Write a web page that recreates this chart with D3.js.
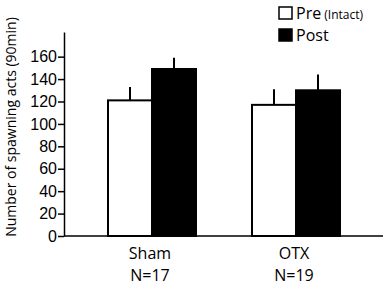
<!DOCTYPE html>
<html lang="en">
<head>
  <meta charset="UTF-8">
  <title>Spawning acts</title>
  <script src="https://d3js.org/d3.v7.min.js"></script>
  <style>
    body { margin: 0; background: #fff; }
    .axis text { font-family: "Liberation Sans", Arial, sans-serif; font-size: 16px; fill: #000; }
    .axis path, .axis line { stroke: #000; stroke-width: 1.5; }
    .lbl { font-family: "Open Sans", "Noto Sans", sans-serif; fill: #000; }
  </style>
</head>
<body>
  <svg width="386" height="285"></svg>

  <script>
    const groups = ["Sham", "OTX"];
    const groupN = ["N=17", "N=19"];
    const phases = ["Pre", "Post"];
    const preMean = [121, 117];
    const preSem = [12, 14];
    const postMean = [149, 130];
    const postSem = [10, 14];
    const yTicks = [0, 20, 40, 60, 80, 100, 120, 140, 160];

    const svg = d3.select("svg");

    const x = d3.scaleBand()
        .domain(groups)
        .range([80, 368]);

    const xPhase = d3.scaleBand()
        .domain(phases)
        .range([-44, 44]);

    const y = d3.scaleLinear()
        .domain([0, 182])
        .range([236, 32]);

    const bars = [];
    groups.forEach((g, i) => {
      bars.push({group: g, phase: "Pre", mean: preMean[i], sem: preSem[i]});
      bars.push({group: g, phase: "Post", mean: postMean[i], sem: postSem[i]});
    });

    // error bars (upper only)
    svg.selectAll(".err")
      .data(bars)
      .enter().append("line")
        .attr("x1", d => x(d.group) + x.bandwidth() / 2 + xPhase(d.phase) + xPhase.bandwidth() / 2)
        .attr("x2", d => x(d.group) + x.bandwidth() / 2 + xPhase(d.phase) + xPhase.bandwidth() / 2)
        .attr("y1", d => y(d.mean))
        .attr("y2", d => y(d.mean + d.sem))
        .attr("stroke", "#000")
        .attr("stroke-width", 2);

    svg.selectAll(".bar")
      .data(bars)
      .enter().append("rect")
        .attr("x", d => x(d.group) + x.bandwidth() / 2 + xPhase(d.phase))
        .attr("width", xPhase.bandwidth())
        .attr("y", d => y(d.mean))
        .attr("height", d => y(0) - y(d.mean))
        .attr("fill", d => d.phase === "Pre" ? "#fff" : "#000")
        .attr("stroke", "#000")
        .attr("stroke-width", 2);

    svg.append("g")
        .attr("class", "axis")
        .attr("transform", "translate(64,0)")
        .call(d3.axisLeft(y).tickValues(yTicks).tickSize(6).tickSizeOuter(0).tickPadding(1));

    svg.append("line")
        .attr("x1", 64).attr("x2", 383)
        .attr("y1", y(0)).attr("y2", y(0))
        .attr("stroke", "#000").attr("stroke-width", 1.5);

    // group labels
    groups.forEach((g, i) => {
      const cx = x(g) + x.bandwidth() / 2;
      svg.append("text").attr("class", "lbl")
        .attr("x", cx - 2).attr("y", 259)
        .attr("text-anchor", "middle").attr("font-size", 16)
        .text(g);
      svg.append("text").attr("class", "lbl")
        .attr("x", cx - 2).attr("y", 281)
        .attr("text-anchor", "middle").attr("font-size", 16)
        .text(groupN[i]);
    });

    svg.append("text").attr("class", "lbl")
        .attr("transform", "translate(16,127) rotate(-90)")
        .attr("text-anchor", "middle").attr("font-size", 14)
        .text("Number of spawning acts (90min)");

    // legend
    const leg = svg.append("g").attr("transform", "translate(279,7)");
    phases.forEach((p, i) => {
      const row = leg.append("g").attr("transform", `translate(0,${i * 22})`);
      row.append("rect")
        .attr("x", 0).attr("y", 0).attr("width", 13).attr("height", 12)
        .attr("fill", p === "Pre" ? "#fff" : "#000")
        .attr("stroke", "#000").attr("stroke-width", 1.5);
      const t = row.append("text").attr("class", "lbl")
        .attr("x", 17).attr("y", 12).attr("font-size", 16);
      t.append("tspan").text(p);
      if (p === "Pre") t.append("tspan").attr("font-size", 12).text(" (Intact)");
    });
  </script>
</body>
</html>
